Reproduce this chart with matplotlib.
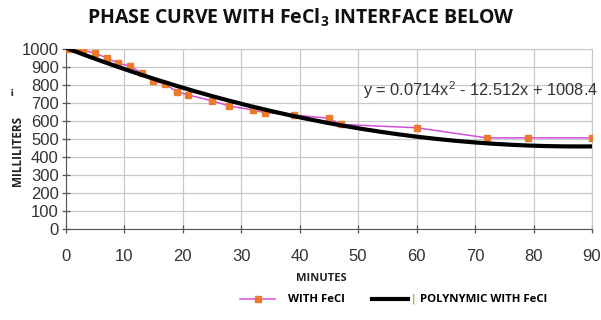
import matplotlib
matplotlib.use("Agg")
import matplotlib.pyplot as plt
import numpy as np

# Readings (minutes, millilitres)
minutes = [0, 1, 2, 3, 5, 7, 9, 11, 13, 15, 17, 19, 21, 25, 28, 32, 34, 39, 45, 47, 60, 72, 79, 90]
volume = [1000, 1000, 1000, 995, 978, 953, 922, 907, 867, 826, 806, 765, 746, 714, 685,
          663, 648, 635, 617, 583, 564, 508, 508, 508]

# Trendline coefficients as printed on the chart
trend_coef = [0.0714, -12.512, 1008.4]

x_ticks = list(range(0, 91, 10))
y_ticks = list(range(0, 1001, 100))

plt.rcParams["mathtext.default"] = "regular"

fig = plt.figure(figsize=(6.01, 3.20), dpi=100)
ax = fig.add_axes([0.1093, 0.2834, 0.8757, 0.5626])

trend_x = np.linspace(0, 90, 200)
trend_y = np.polyval(trend_coef, trend_x)

ax.plot(minutes, volume, color="#d24fd8", lw=1.1, marker="s", ms=5,
        mfc="#ec7a2c", mec="#ec7a2c", label="WITH FeCl", zorder=3)
ax.plot(trend_x, trend_y, color="black", lw=3, label="POLYNYMIC WITH FeCl", zorder=4)

ax.set_xlim(0, 90)
ax.set_ylim(0, 1000)
ax.set_xticks(x_ticks)
ax.set_yticks(y_ticks)
ax.grid(True, color="#c8c8c8", lw=0.9)
ax.set_axisbelow(True)
for s in ["top", "right"]:
    ax.spines[s].set_color("#c8c8c8")
for s in ["left", "bottom"]:
    ax.spines[s].set_color("#555555")
ax.tick_params(direction="inout", length=6, width=0.9, color="#555555",
               labelsize=12, labelcolor="#333333", pad=2)
for lab in ax.get_xticklabels() + ax.get_yticklabels():
    lab.set_family("Liberation Sans")
ax.tick_params(axis="x", pad=11)

ax.text(50.9, 774, "y = 0.0714x$^2$ - 12.512x + 1008.4", fontsize=11.8,
        family="Liberation Sans", color="#333333", va="center", ha="left", clip_on=False)

fig.text(0.5, 0.945, "PHASE CURVE WITH FeCl$_3$ INTERFACE BELOW", ha="center", va="center",
         fontsize=14, fontweight="bold", family="Open Sans", color="#111111")
fig.text(0.029, 0.528, "MILLILITERS", rotation=90, ha="center", va="center",
         fontsize=8.5, fontweight="bold", family="Open Sans", color="#222222")
fig.text(0.019, 0.712, "¡", ha="center", va="center", fontsize=7, fontweight="bold", color="#333333")
fig.text(0.534, 0.131, "MINUTES", ha="center", va="center",
         fontsize=8, fontweight="bold", family="Open Sans", color="#222222")

leg = fig.legend(loc="center left", bbox_to_anchor=(0.3993, 0.0625), ncol=2, frameon=False,
                 borderpad=0, borderaxespad=0,
                 handlelength=3.1, columnspacing=2.45, handletextpad=1.1,
                 prop={"family": "Open Sans", "weight": "bold", "size": 8.2})
fig.text(413 / 601, 0.0655, "|", ha="center", va="center", fontsize=8, color="#9a7a20")

fig.savefig("out.png", dpi=100)
